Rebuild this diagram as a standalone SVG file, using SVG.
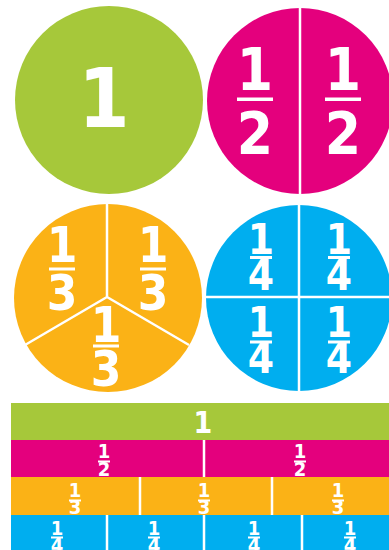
<svg xmlns="http://www.w3.org/2000/svg" width="389" height="550" viewBox="0 0 389 550">
<style>
.t{font-family:"DejaVu Sans Condensed","DejaVu Sans",sans-serif;font-weight:bold;fill:#fff;text-anchor:middle}
.d{stroke:#fff;stroke-width:2.5;fill:none}
.fb{fill:#fff}
.g{fill:#A6C83A}.p{fill:#E4007D}.o{fill:#FBB216}.b{fill:#00AEEF}
</style>
<rect width="389" height="550" fill="#fff"/>
<g id="circle-whole">
<circle class="g" cx="109" cy="100" r="94"/>
<text class="t" x="104" y="127" font-size="82">1</text>
</g>
<g id="circle-halves">
<circle class="p" cx="300" cy="101" r="93"/>
<line class="d" x1="300" y1="6" x2="300" y2="196"/>
<text class="t" x="255" y="90" font-size="58">1</text>
<rect class="fb" x="237" y="97.5" width="36" height="3.5"/>
<text class="t" x="255" y="154" font-size="58">2</text>
<text class="t" x="343" y="90" font-size="58">1</text>
<rect class="fb" x="325" y="97.5" width="36" height="3.5"/>
<text class="t" x="343" y="154" font-size="58">2</text>
</g>
<g id="circle-thirds">
<circle class="o" cx="108" cy="298" r="94"/>
<path class="d" d="M107 297 V203 M107 297 L25 345 M107 297 L189 345"/>
<text class="t" x="62" y="262" font-size="49">1</text>
<rect class="fb" x="49" y="267.5" width="26" height="3"/>
<text class="t" x="62" y="310" font-size="49">3</text>
<text class="t" x="153" y="262" font-size="49">1</text>
<rect class="fb" x="140" y="267.5" width="26" height="3"/>
<text class="t" x="153" y="310" font-size="49">3</text>
<text class="t" x="106" y="342" font-size="49">1</text>
<rect class="fb" x="93" y="344.5" width="26" height="3"/>
<text class="t" x="106" y="386" font-size="49">3</text>
</g>
<g id="circle-quarters">
<circle class="b" cx="299" cy="298" r="93"/>
<path class="d" d="M299 204 V392 M205 297 H393"/>
<text class="t" x="261" y="254" font-size="42">1</text>
<rect class="fb" x="250" y="256" width="22" height="3"/>
<text class="t" x="261" y="290" font-size="42">4</text>
<text class="t" x="339" y="254" font-size="42">1</text>
<rect class="fb" x="328" y="256" width="22" height="3"/>
<text class="t" x="339" y="290" font-size="42">4</text>
<text class="t" x="261" y="337" font-size="42">1</text>
<rect class="fb" x="250" y="340.5" width="22" height="3"/>
<text class="t" x="261" y="373" font-size="42">4</text>
<text class="t" x="339" y="337" font-size="42">1</text>
<rect class="fb" x="328" y="340.5" width="22" height="3"/>
<text class="t" x="339" y="373" font-size="42">4</text>
</g>
<g id="bar-whole">
<rect class="g" x="11" y="403" width="390" height="37"/>
<text class="t" x="203" y="433" font-size="30">1</text>
</g>
<g id="bar-halves">
<rect class="p" x="11" y="440" width="390" height="37"/>
<text class="t" x="104" y="458" font-size="20">1</text>
<rect class="fb" x="98" y="460.5" width="12" height="2"/>
<text class="t" x="104" y="476" font-size="20">2</text>
<text class="t" x="300" y="458" font-size="20">1</text>
<rect class="fb" x="294" y="460.5" width="12" height="2"/>
<text class="t" x="300" y="476" font-size="20">2</text>
</g>
<g id="bar-thirds">
<rect class="o" x="11" y="477" width="390" height="38"/>
<text class="t" x="75" y="497" font-size="20">1</text>
<rect class="fb" x="69" y="499.5" width="12" height="2"/>
<text class="t" x="75" y="514" font-size="20">3</text>
<text class="t" x="204" y="497" font-size="20">1</text>
<rect class="fb" x="198" y="499.5" width="12" height="2"/>
<text class="t" x="204" y="514" font-size="20">3</text>
<text class="t" x="338" y="497" font-size="20">1</text>
<rect class="fb" x="332" y="499.5" width="12" height="2"/>
<text class="t" x="338" y="514" font-size="20">3</text>
</g>
<g id="bar-quarters">
<rect class="b" x="11" y="515" width="390" height="40"/>
<text class="t" x="57" y="535" font-size="20">1</text>
<rect class="fb" x="51" y="536.5" width="12" height="2"/>
<text class="t" x="57" y="552" font-size="20">4</text>
<text class="t" x="154" y="535" font-size="20">1</text>
<rect class="fb" x="148" y="536.5" width="12" height="2"/>
<text class="t" x="154" y="552" font-size="20">4</text>
<text class="t" x="254" y="535" font-size="20">1</text>
<rect class="fb" x="248" y="536.5" width="12" height="2"/>
<text class="t" x="254" y="552" font-size="20">4</text>
<text class="t" x="350" y="535" font-size="20">1</text>
<rect class="fb" x="344" y="536.5" width="12" height="2"/>
<text class="t" x="350" y="552" font-size="20">4</text>
</g>
<g id="connectors">
<path class="d" stroke-width="2" d="M204 440 V477 M140 477 V515 M272 477 V515 M107 515 V550 M204 515 V550 M302 515 V550"/>
</g>
</svg>
